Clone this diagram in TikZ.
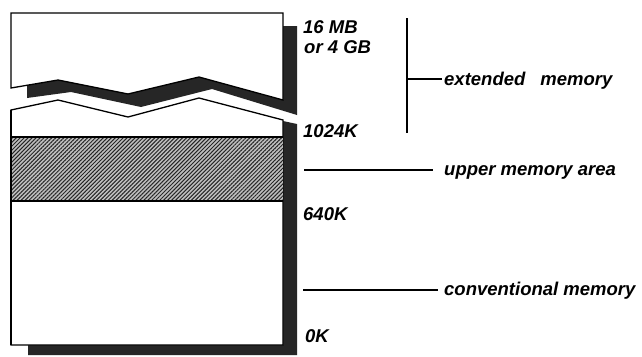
\documentclass[tikz,border=0pt]{standalone}
\usepackage{fontspec}
\newfontfamily\labfont{Liberation Sans}[UprightFont=* Bold Italic]
\usetikzlibrary{patterns.meta}
\begin{document}
\begin{tikzpicture}[x=1pt,y=-1pt,
  lab/.style={font=\labfont\fontsize{18.5}{21}\selectfont, inner sep=0pt, anchor=base west},
  outline/.style={draw=black, line width=1.3pt, line join=miter},
  shadow/.style={fill=black!85},
  rule/.style={draw=black, line width=1.6pt}]
\useasboundingbox[fill=white] (0,0) rectangle (642,356);
% shadows
\fill[shadow] (27,26) -- (297,26) -- (297,115) -- (212,89) -- (141,107) -- (71,92) -- (27,98) -- cycle;
\fill[shadow] (283,121) -- (297,124) -- (297,355) -- (28,355) -- (28,345) -- (283,345) -- cycle;
% top piece (beyond 1024K)
\filldraw[outline, fill=white] (11,13) -- (283,13) -- (283,100) -- (199,77) -- (128,94) -- (58,80) -- (11,88) -- cycle;
% lower piece
\filldraw[outline, fill=white] (11,110) -- (58,100) -- (128,117) -- (199,98) -- (283,120) -- (283,345) -- (11,345) -- cycle;
% upper memory area
\fill[gray!50] (11,137) rectangle (283,201);
\fill[pattern={Lines[angle=45,distance=2.8pt,line width=1pt]}, pattern color=black!85] (11,137) rectangle (283,201);
\draw[outline] (11,137) -- (283,137);
\draw[outline] (11,201) -- (283,201);
\draw[outline] (11,110) -- (11,345);
% address labels
\node[lab] (a16) at (303,33) {16 MB};
\node[lab] (a4g) at (304,53) {or 4 GB};
\node[lab] (a1024) at (303,137) {1024K};
\node[lab] (a640) at (303,220) {640K};
\node[lab] (a0) at (305,342) {0K};
% region labels
\node[lab] (ext) at (444,85) {extended\hspace{15pt}memory};
\node[lab] (uma) at (444,175) {upper memory area};
\node[lab] (conv) at (444,295) {conventional memory};
% bracket and leaders
\coordinate (bt) at (407,18);
\coordinate (bb) at (407,133);
\coordinate (bm) at (407,79);
\coordinate (ue) at (304,170);
\coordinate (ce) at (303,290);
\draw[rule] (bt) -- (bb);
\draw[rule] (bm) -- ([xshift=-2pt]ext.west |- bm);
\draw[rule] (ue) -- ([xshift=-11pt]uma.west |- ue);
\draw[rule] (ce) -- ([xshift=-6pt]conv.west |- ce);
\end{tikzpicture}
\end{document}
